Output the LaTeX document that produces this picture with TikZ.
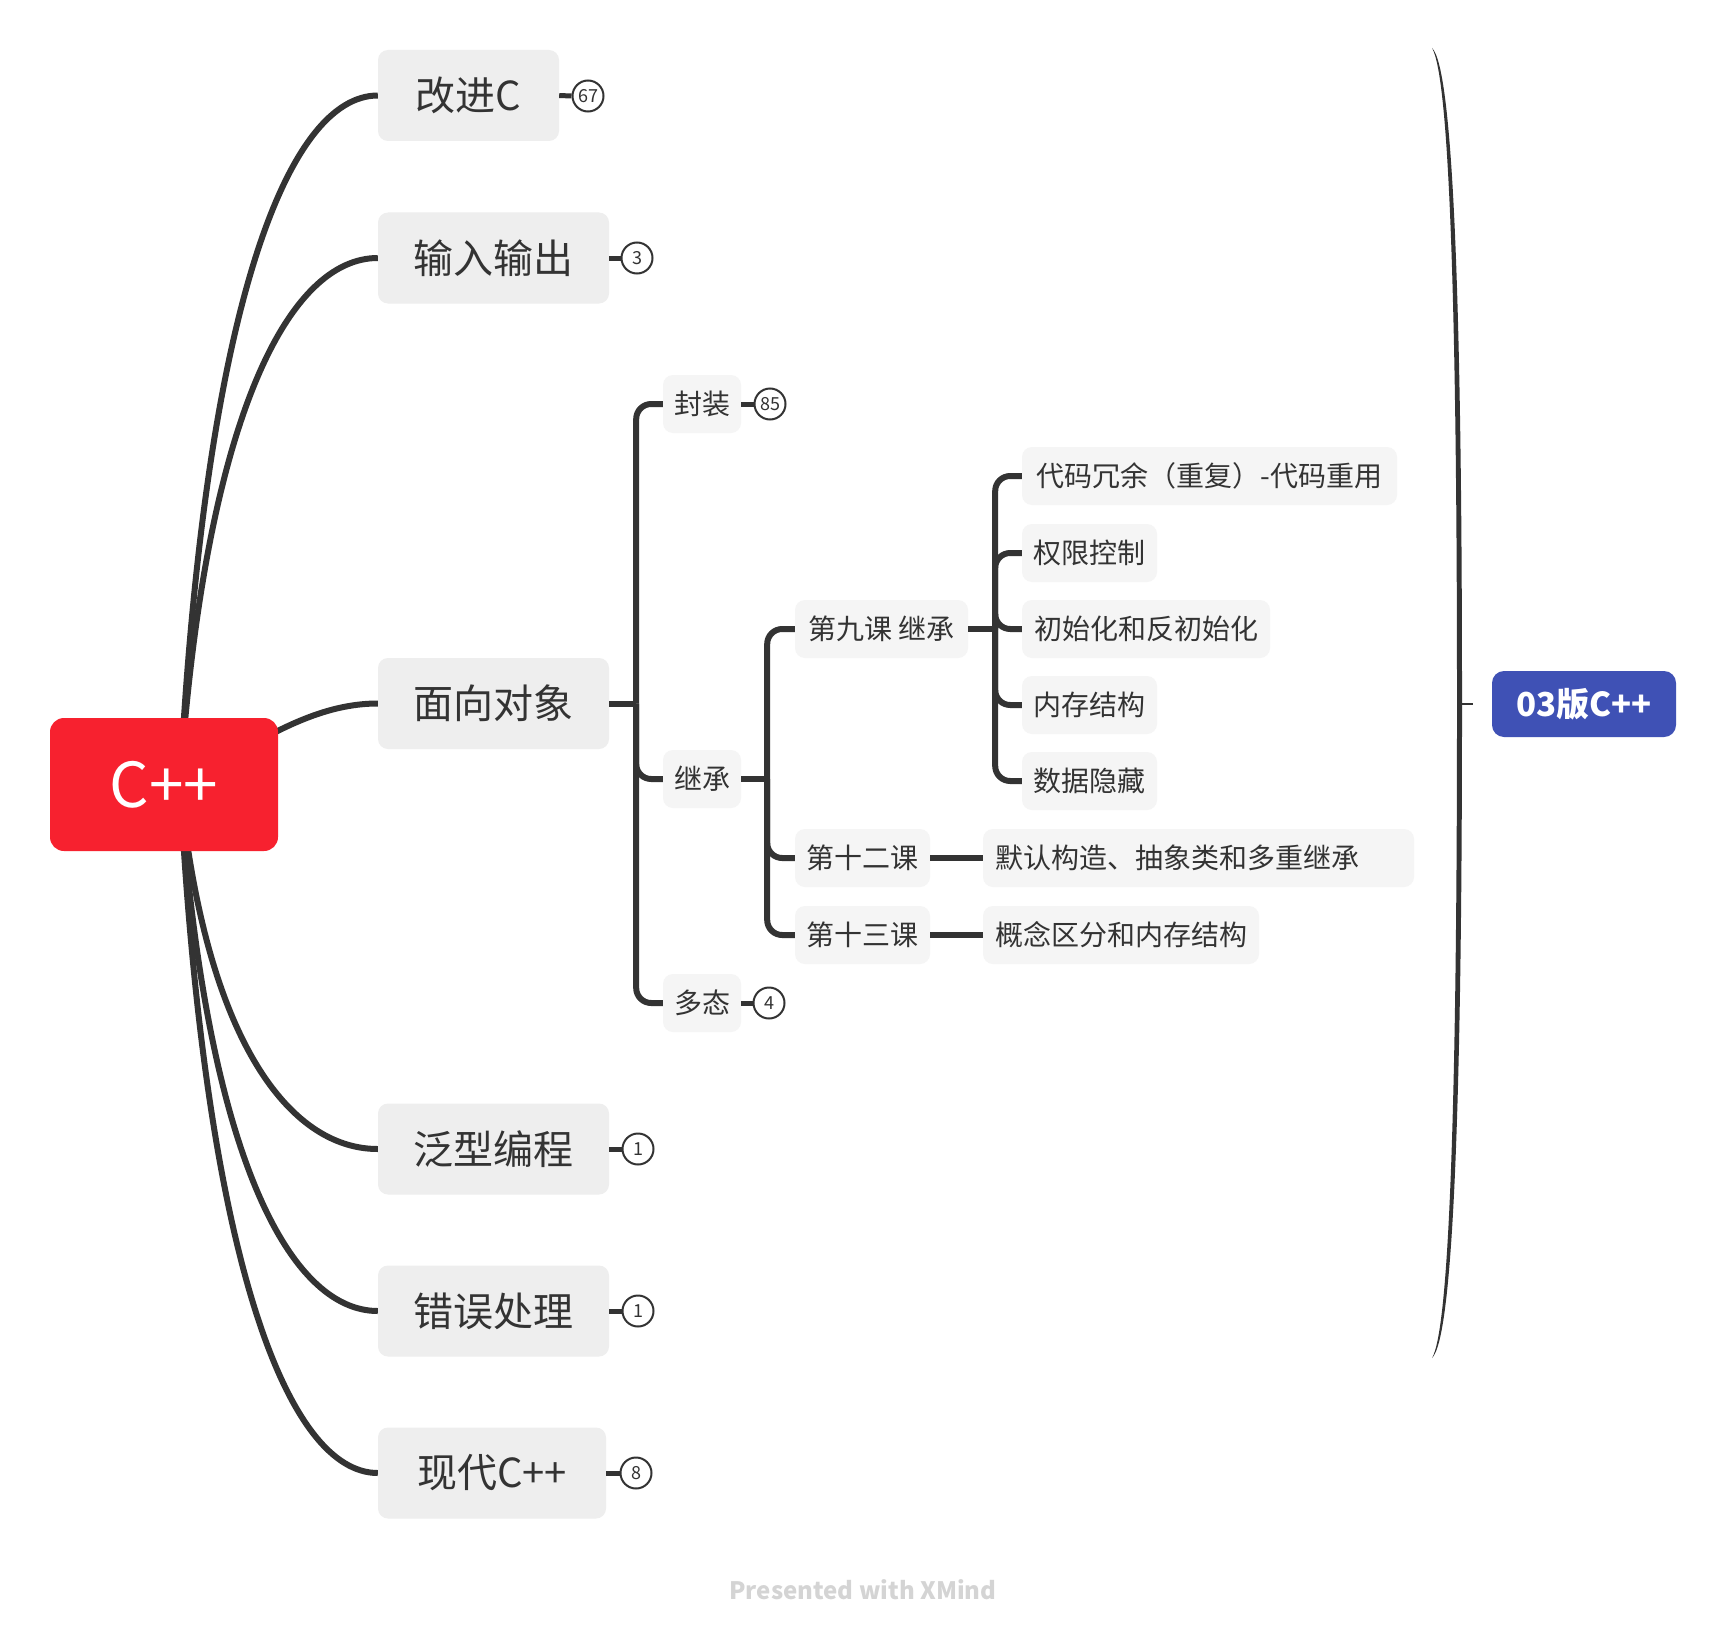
\documentclass[tikz,border=0pt]{standalone}
\usepackage{fontspec}
\setmainfont{Noto Sans CJK SC}
\usetikzlibrary{backgrounds}
\tikzset{
  rootbox/.style={fill=rootFill, rounded corners=14pt, text=white, minimum width=228pt, minimum height=133pt, inner sep=0pt, font=\fontsize{62}{62}\selectfont},
  mainbox/.style={fill=mainFill, rounded corners=10pt, text=textColor, minimum height=91pt, inner sep=0pt, font=\fontsize{40}{40}\selectfont},
  subbox/.style={fill=subFill, rounded corners=10pt, text=textColor, minimum height=58pt, inner sep=0pt, font=\fontsize{28}{28}\selectfont},
  summarybox/.style={fill=summaryFill, rounded corners=12pt, text=white, minimum width=184pt, minimum height=66pt, inner sep=0pt, font=\bfseries\fontsize{33}{33}\selectfont},
  badge/.style={circle, draw=lineColor, line width=2pt, fill=white, minimum size=31pt, inner sep=0pt, text=textColor, font=\fontsize{18}{18}\selectfont},
  trunk/.style={draw=lineColor, line width=6pt},
  branch/.style={draw=lineColor, line width=6pt},
  elbow/.style={branch, rounded corners=15pt},
  stub/.style={draw=lineColor, line width=5pt},
}
\begin{document}
\begin{tikzpicture}[x=1pt,y=-1pt]
\definecolor{fillColor}{RGB}{255,255,255}
\definecolor{lineColor}{RGB}{51,51,51}
\definecolor{textColor}{RGB}{51,51,51}
\definecolor{mainFill}{RGB}{238,238,238}
\definecolor{subFill}{RGB}{245,245,245}
\definecolor{rootFill}{RGB}{247,33,47}
\definecolor{summaryFill}{RGB}{63,81,181}
\definecolor{footColor}{RGB}{212,212,212}
\begin{scope}[on background layer]
\path[use as bounding box,fill=fillColor] (0,0) rectangle (1726,1640);
\end{scope}

% central topic and main topics
\node[rootbox] (root) at (164,784.5) {C++};
\coordinate (hub) at ([xshift=16pt]root.center);

\node[mainbox, minimum width=181pt] (gaijin) at (468.5,95.5) {改进C};
\node[mainbox, minimum width=231pt] (shuru) at (493.5,258) {输入输出};
\node[mainbox, minimum width=231pt] (mianxiang) at (493.5,703.5) {面向对象};
\node[mainbox, minimum width=231pt] (fanxing) at (493.5,1149) {泛型编程};
\node[mainbox, minimum width=231pt] (cuowu) at (493.5,1311) {错误处理};
\node[mainbox, minimum width=228pt] (xiandai) at (492,1473) {现代C++};

\begin{scope}[on background layer]
\draw[trunk] (hub) .. controls (205,302) and (289,95.5) .. (gaijin.west);
\draw[trunk] (hub) .. controls (205,416) and (289,258) .. (shuru.west);
\draw[trunk] (hub) .. controls (245,752) and (305,703.5) .. (mianxiang.west);
\draw[trunk] (hub) .. controls (205,1039) and (289,1149) .. (fanxing.west);
\draw[trunk] (hub) .. controls (205,1153) and (289,1311) .. (cuowu.west);
\draw[trunk] (hub) .. controls (205,1266) and (289,1473) .. (xiandai.west);
\end{scope}

% topic counters
\node[badge] (n67) at (588,96) {67};
\node[badge] (n3) at (637,258) {3};
\node[badge] (n1a) at (638,1149) {1};
\node[badge] (n1b) at (638,1311) {1};
\node[badge] (n8) at (636,1473) {8};
\draw[stub] (gaijin.east) -- (n67.west);
\draw[stub] (shuru.east) -- (n3.west);
\draw[stub] (fanxing.east) -- (n1a.west);
\draw[stub] (cuowu.east) -- (n1b.west);
\draw[stub] (xiandai.east) -- (n8.west);

% object oriented
\node[subbox, minimum width=78pt] (fengzhuang) at (702,404) {封装};
\node[subbox, minimum width=78pt] (jicheng) at (702,779) {继承};
\node[subbox, minimum width=78pt] (duotai) at (702,1003) {多态};
\node[badge] (n85) at (770,404) {85};
\node[badge] (n4) at (769,1003) {4};
\draw[stub] (fengzhuang.east) -- (n85.west);
\draw[stub] (duotai.east) -- (n4.west);

\coordinate (oo) at ([xshift=27pt]mianxiang.east);
\draw[branch] (mianxiang.east) -- (oo);
\draw[elbow] (oo) |- (fengzhuang.west);
\draw[elbow] (oo) |- (jicheng.west);
\draw[elbow] (oo) |- (duotai.west);

% inheritance
\node[subbox, minimum width=173pt] (dijiu) at (881.5,629) {第九课 继承};
\node[subbox, minimum width=135pt] (dishier) at (862.5,858) {第十二课};
\node[subbox, minimum width=135pt] (dishisan) at (862.5,935) {第十三课};

\coordinate (jc) at ([xshift=26pt]jicheng.east);
\draw[branch] (jicheng.east) -- (jc);
\draw[elbow] (jc) |- (dijiu.west);
\draw[elbow] (jc) |- (dishier.west);
\draw[elbow] (jc) |- (dishisan.west);

\node[subbox, minimum width=375pt] (chongyu) at (1209.5,476) {代码冗余（重复）-代码重用};
\node[subbox, minimum width=135pt] (quanxian) at (1089.5,553) {权限控制};
\node[subbox, minimum width=248pt] (chushi) at (1146,629) {初始化和反初始化};
\node[subbox, minimum width=135pt] (neicun) at (1089.5,705) {内存结构};
\node[subbox, minimum width=135pt] (yincang) at (1089.5,781) {数据隐藏};

\coordinate (jk) at ([xshift=27pt]dijiu.east);
\draw[branch] (dijiu.east) -- (jk);
\draw[elbow] (jk) |- (chongyu.west);
\draw[elbow] (jk) |- (quanxian.west);
\draw[elbow] (jk) |- (chushi.west);
\draw[elbow] (jk) |- (neicun.west);
\draw[elbow] (jk) |- (yincang.west);

\node[subbox, text width=407pt, inner xsep=12pt, align=left] (moren) at (1198.5,858) {默认构造、抽象类和多重继承};
\node[subbox, minimum width=276pt] (gainian) at (1121,935) {概念区分和内存结构};
\draw[branch] (dishier.east) -- (moren.west);
\draw[branch] (dishisan.east) -- (gainian.west);

% summary
\fill[lineColor] (1432,48) .. controls (1453,68) and (1462,300) .. (1462,704)
  .. controls (1462,1108) and (1453,1338) .. (1432,1358)
  .. controls (1449,1330) and (1457,1108) .. (1457,704)
  .. controls (1457,300) and (1449,76) .. (1432,48) -- cycle;
\coordinate (bracemid) at (1460,704);
\coordinate (tickend) at (1473,704);
\draw[lineColor, line width=2pt] (bracemid) -- (tickend);
\node[summarybox] (ver03) at (1584,704) {03版C++};

\node[text=footColor, font=\bfseries\fontsize{24}{24}\selectfont] (footer) at (863,1590) {Presented with XMind};
\end{tikzpicture}
\end{document}
